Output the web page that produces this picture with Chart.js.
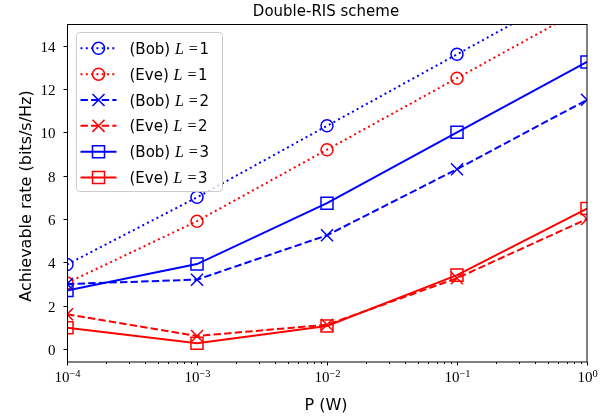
<!DOCTYPE html>
<html><head><meta charset="utf-8">
<script src="https://cdn.jsdelivr.net/npm/chart.js@4.4.0/dist/chart.umd.min.js"></script>
<style>html,body{margin:0;padding:0;background:#fff;}canvas{display:block;}</style>
</head><body>
<canvas id="c" width="613" height="417"></canvas>
<script>
// ---- data ----
const powers = [1e-4, 1e-3, 1e-2, 1e-1, 1];
const bobL1 = [3.9, 7.0, 10.3, 13.6, 16.9];
const eveL1 = [3.05, 5.9, 9.2, 12.5, 15.8];
const bobL2 = [3.0, 3.2, 5.25, 8.3, 11.5];
const eveL2 = [1.6, 0.6, 1.12, 3.27, 6.0];
const bobL3 = [2.7, 3.92, 6.73, 10.0, 13.25];
const eveL3 = [0.98, 0.27, 1.06, 3.41, 6.48];
const whoLabels = ['(Bob)', '(Eve)', '(Bob)', '(Eve)', '(Bob)', '(Eve)'];
const lLabels = ['1', '1', '2', '2', '3', '3'];
const yTickValues = [0, 2, 4, 6, 8, 10, 12, 14];
const xTickExponents = [-4, -3, -2, -1, 0];
const titleText = 'Double-RIS scheme';
const xTitle = 'P (W)';
const yTitle = 'Achievable rate (bits/s/Hz)';

const BLUE = '#0000ff', RED = '#ff0000';
const DOT = [2, 3.3], DASH = [7.4, 3.2], SOLID = [];
const seriesDefs = [
  {vals: bobL1, color: BLUE, dash: DOT, style: 'circle', r: 6},
  {vals: eveL1, color: RED, dash: DOT, style: 'circle', r: 6},
  {vals: bobL2, color: BLUE, dash: DASH, style: 'crossRot', r: 8.5},
  {vals: eveL2, color: RED, dash: DASH, style: 'crossRot', r: 8.5},
  {vals: bobL3, color: BLUE, dash: SOLID, style: 'rect', r: 8.5},
  {vals: eveL3, color: RED, dash: SOLID, style: 'rect', r: 8.5},
];

const datasets = seriesDefs.map((s, i) => ({
  label: whoLabels[i] + ' L =' + lLabels[i],
  data: powers.map((p, j) => ({x: p, y: s.vals[j]})),
  borderColor: s.color,
  borderWidth: 2,
  borderDash: s.dash,
  borderCapStyle: 'butt',
  pointStyle: s.style,
  pointRadius: s.r,
  pointBorderWidth: 1.5,
  pointBorderColor: s.color,
  pointBackgroundColor: 'rgba(0,0,0,0)',
  tension: 0,
  fill: false,
  clip: 0,
  order: seriesDefs.length - i
}));

function drawMarker(ctx, style, r, x, y, color) {
  ctx.save();
  ctx.setLineDash([]);
  ctx.strokeStyle = color;
  ctx.lineWidth = 1.5;
  ctx.beginPath();
  if (style === 'circle') {
    ctx.arc(x, y, r, 0, Math.PI * 2);
  } else if (style === 'rect') {
    const s = r * Math.SQRT1_2;
    ctx.rect(x - s, y - s, 2 * s, 2 * s);
  } else {
    const s = r * Math.SQRT1_2;
    ctx.moveTo(x - s, y - s); ctx.lineTo(x + s, y + s);
    ctx.moveTo(x - s, y + s); ctx.lineTo(x + s, y - s);
  }
  ctx.stroke();
  ctx.restore();
}

const decor = {
  id: 'decor',
  afterDatasetsDraw(chart) {
    const {ctx, chartArea: a, scales: {x, y}} = chart;
    ctx.save();
    ctx.setLineDash([]);
    // frame
    ctx.strokeStyle = '#000';
    ctx.lineWidth = 1;
    ctx.strokeRect(a.left + 0.5, a.top + 0.5, a.right - a.left - 1 + 0.5, a.bottom - a.top - 0.5);
    // y ticks
    ctx.fillStyle = '#000';
    ctx.font = '15px "Liberation Serif"';
    ctx.textAlign = 'right';
    ctx.textBaseline = 'alphabetic';
    yTickValues.forEach(v => {
      const py = Math.round(y.getPixelForValue(v)) + 0.5;
      ctx.beginPath(); ctx.moveTo(a.left - 3.5, py); ctx.lineTo(a.left, py); ctx.stroke();
      ctx.fillText(String(v), a.left - 11.5, py + 5);
    });
    // x ticks
    xTickExponents.forEach((e, idx) => {
      const px = Math.round(x.getPixelForValue(Math.pow(10, e))) + 0.5;
      ctx.beginPath(); ctx.moveTo(px, a.bottom); ctx.lineTo(px, a.bottom + 3.5); ctx.stroke();
      if (idx < xTickExponents.length - 1) {
        for (let k = 2; k <= 9; k++) {
          const mx = Math.round(x.getPixelForValue(k * Math.pow(10, e))) + 0.5;
          ctx.beginPath(); ctx.moveTo(mx, a.bottom); ctx.lineTo(mx, a.bottom + 2); ctx.stroke();
        }
      }
      // label 10^e
      const base = '10';
      const sup = (e < 0 ? '\u2212' : '') + Math.abs(e);
      ctx.font = '15px "Liberation Serif"';
      const wb = ctx.measureText(base).width;
      ctx.font = '10.5px "Liberation Serif"';
      const ws = ctx.measureText(sup).width;
      const start = px - (wb + ws) / 2;
      ctx.textAlign = 'left';
      ctx.font = '15px "Liberation Serif"';
      ctx.fillText(base, start, 382);
      ctx.font = '10.5px "Liberation Serif"';
      ctx.fillText(sup, start + wb, 376.5);
    });
    // axis titles
    ctx.font = '16px "DejaVu Sans"';
    ctx.textAlign = 'center';
    ctx.fillText(xTitle, (a.left + a.right) / 2 - 1, 410);
    ctx.save();
    ctx.translate(31, 196);
    ctx.rotate(-Math.PI / 2);
    ctx.fillText(yTitle, 0, 0);
    ctx.restore();
    // title
    ctx.font = '15px "DejaVu Sans"';
    ctx.fillText(titleText, (a.left + a.right) / 2 - 1, 16);

    // legend
    const lx = 76.5, ly = 32.5, lw = 146, lh = 159, rr = 3;
    ctx.beginPath();
    ctx.moveTo(lx + rr, ly);
    ctx.arcTo(lx + lw, ly, lx + lw, ly + lh, rr);
    ctx.arcTo(lx + lw, ly + lh, lx, ly + lh, rr);
    ctx.arcTo(lx, ly + lh, lx, ly, rr);
    ctx.arcTo(lx, ly, lx + lw, ly, rr);
    ctx.closePath();
    ctx.fillStyle = 'rgba(255,255,255,0.8)';
    ctx.fill();
    ctx.strokeStyle = '#cccccc';
    ctx.lineWidth = 1;
    ctx.stroke();

    seriesDefs.forEach((s, i) => {
      const cy = 48.3 + i * 25.85;
      ctx.save();
      ctx.strokeStyle = s.color;
      ctx.lineWidth = 2;
      ctx.setLineDash(s.dash);
      ctx.beginPath(); ctx.moveTo(80.5, cy); ctx.lineTo(116.5, cy); ctx.stroke();
      ctx.restore();
      drawMarker(ctx, s.style, s.r, 98.5, cy, s.color);
      ctx.fillStyle = '#000';
      ctx.textAlign = 'left';
      let tx = 129.5;
      const by = cy + 5.5;
      ctx.font = '15px "DejaVu Sans"';
      const who = whoLabels[i] + ' ';
      ctx.fillText(who, tx, by);
      tx += ctx.measureText(who).width;
      ctx.font = 'italic 16px "Liberation Serif"';
      ctx.fillText('L', tx, by);
      tx += ctx.measureText('L').width + 5;
      ctx.font = '16px "Liberation Serif"';
      ctx.fillText('=', tx, by);
      tx += ctx.measureText('=').width + 1.5;
      ctx.font = '15px "DejaVu Sans"';
      ctx.fillText(lLabels[i], tx, by);
    });
    ctx.restore();
  }
};

new Chart(document.getElementById('c'), {
  type: 'line',
  data: {datasets},
  options: {
    responsive: false,
    animation: false,
    devicePixelRatio: 1,
    layout: {padding: {left: 67, right: 26, top: 24, bottom: 55}},
    plugins: {legend: {display: false}, title: {display: false}, tooltip: {enabled: false}},
    scales: {
      x: {type: 'logarithmic', min: 1e-4, max: 1, display: false},
      y: {type: 'linear', min: -0.6, max: 15, display: false}
    }
  },
  plugins: [decor]
});
</script>
</body></html>
